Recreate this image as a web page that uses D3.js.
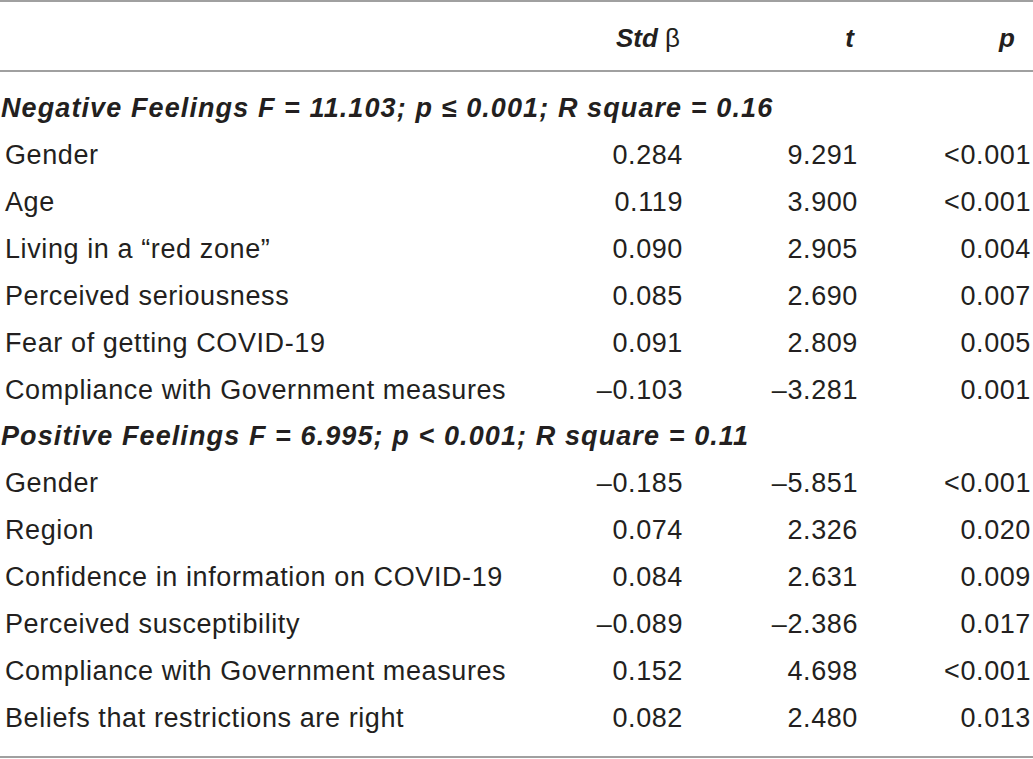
<!DOCTYPE html>
<html>
<head>
<meta charset="utf-8">
<script src="https://cdn.jsdelivr.net/npm/d3@7"></script>
<style>
  html, body { margin: 0; padding: 0; background: #fff; }
  svg { display: block; }
</style>
</head>
<body>
<div id="chart"></div>
<script>
const columns = ["Std β", "t", "p"];

const negativeTitle = "Negative Feelings F = 11.103; p ≤ 0.001; R square = 0.16";
const negativeRows = [
    "Gender", "Age", "Living in a “red zone”", "Perceived seriousness",
    "Fear of getting COVID-19", "Compliance with Government measures"
];
const negativeBeta = ["0.284", "0.119", "0.090", "0.085", "0.091", "–0.103"];
const negativeT = ["9.291", "3.900", "2.905", "2.690", "2.809", "–3.281"];
const negativeP = ["<0.001", "<0.001", "0.004", "0.007", "0.005", "0.001"];

const positiveTitle = "Positive Feelings F = 6.995; p < 0.001; R square = 0.11";
const positiveRows = [
    "Gender", "Region", "Confidence in information on COVID-19",
    "Perceived susceptibility", "Compliance with Government measures",
    "Beliefs that restrictions are right"
];
const positiveBeta = ["–0.185", "0.074", "0.084", "–0.089", "0.152", "0.082"];
const positiveT = ["–5.851", "2.326", "2.631", "–2.386", "4.698", "2.480"];
const positiveP = ["<0.001", "0.020", "0.009", "0.017", "<0.001", "0.013"];

const width = 1033;
const height = 759;
const ink = "#231f20";

// flatten into table rows
const rows = [];
function addGroup(title, names, beta, t, p) {
    rows.push({ type: "group", label: title });
    names.forEach((n, i) => rows.push({ type: "row", label: n, values: [beta[i], t[i], p[i]] }));
}
addGroup(negativeTitle, negativeRows, negativeBeta, negativeT, negativeP);
addGroup(positiveTitle, positiveRows, positiveBeta, positiveT, positiveP);

const svg = d3.select("#chart")
    .append("svg")
    .attr("width", width)
    .attr("height", height)
    .attr("font-family", "'Liberation Sans', Arial, Helvetica, sans-serif")
    .attr("font-size", "27px")
    .attr("fill", ink);

// baseline of each body row
const y = d3.scaleLinear()
    .domain([0, rows.length - 1])
    .range([117, 727]);

// right edges of the value columns
const colX = d3.scaleOrdinal()
    .domain(columns)
    .range([682, 857, 1030]);

// rules
svg.selectAll("line.rule")
    .data([1, 71, 757])
    .enter()
    .append("line")
    .attr("class", "rule")
    .attr("x1", 0)
    .attr("x2", width)
    .attr("y1", d => d)
    .attr("y2", d => d)
    .attr("stroke", "#a0a0a0")
    .attr("stroke-width", 2);

// header
const head = svg.selectAll("text.head")
    .data(columns)
    .enter()
    .append("text")
    .attr("class", "head")
    .attr("x", (d, i) => colX(d) - [2, 3, 15][i])
    .attr("y", 47)
    .attr("font-size", "26px")
    .attr("text-anchor", "end")
    .attr("font-weight", "bold")
    .attr("font-style", "italic");

head.each(function(d) {
    const el = d3.select(this);
    if (d === "Std β") {
        el.append("tspan").text("Std ");
        el.append("tspan").attr("font-weight", "normal").attr("font-style", "normal").text("β");
    } else {
        el.text(d);
    }
});

// body
const row = svg.selectAll("g.row")
    .data(rows)
    .enter()
    .append("g")
    .attr("class", "row")
    .attr("transform", (d, i) => `translate(0,${y(i)})`);

row.filter(d => d.type === "group")
    .append("text")
    .attr("x", 1)
    .attr("font-weight", "bold")
    .attr("font-style", "italic")
    .attr("letter-spacing", "1.1px")
    .text(d => d.label);

const body = row.filter(d => d.type === "row");

body.append("text")
    .attr("x", 5)
    .attr("letter-spacing", "0.6px")
    .text(d => d.label);

body.selectAll("text.val")
    .data(d => d.values.map((v, i) => ({ v, col: columns[i] })))
    .enter()
    .append("text")
    .attr("class", "val")
    .attr("x", d => colX(d.col) + 1)
    .attr("text-anchor", "end")
    .attr("letter-spacing", "0.6px")
    .text(d => d.v);
</script>
</body>
</html>
